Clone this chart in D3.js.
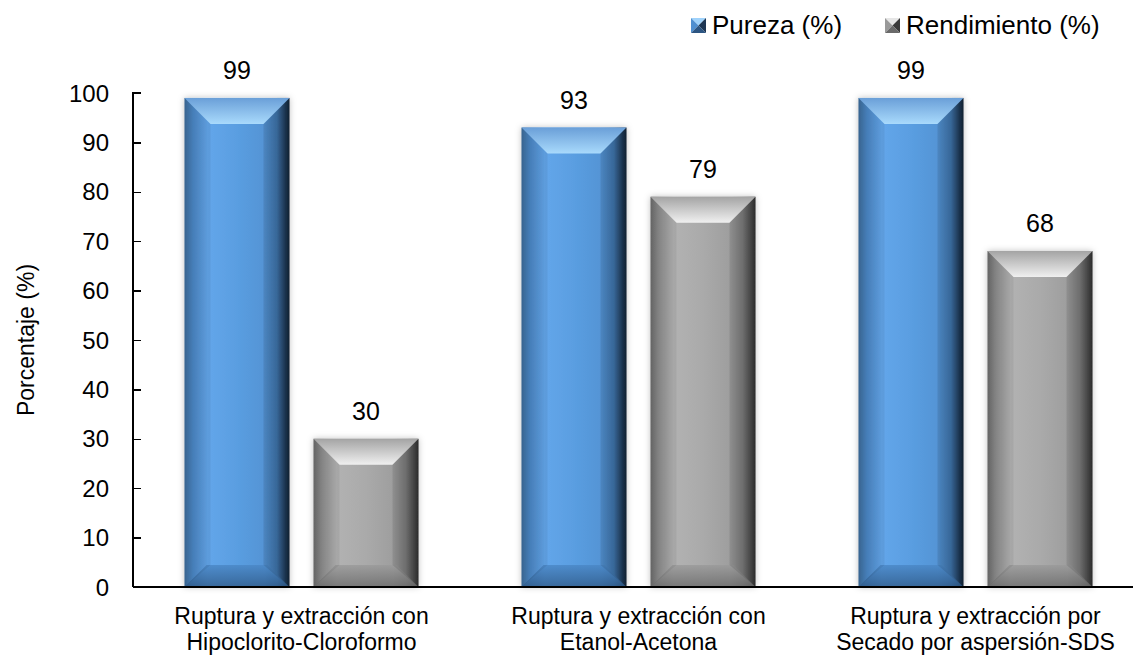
<!DOCTYPE html>
<meta charset="utf-8">
<script type="text/javascript" src="https://d3js.org/d3.v7.min.js"></script>
<style>
body { margin: 0; background: #fff; }
text {
  fill: #000;
  font-family: Arial, "Liberation Sans", sans-serif;
}
.axis path, .axis line { stroke: #000; stroke-width: 1.5px; shape-rendering: crispEdges; }
</style>
<body>
<script>

// data
var categories = [
  ["Ruptura y extracción con", "Hipoclorito-Cloroformo"],
  ["Ruptura y extracción con", "Etanol-Acetona"],
  ["Ruptura y extracción por", "Secado por aspersión-SDS"]
];
var series = ["Pureza (%)", "Rendimiento (%)"];
var pureza = [99, 93, 99];
var rendimiento = [30, 79, 68];
var yTicks = [0, 10, 20, 30, 40, 50, 60, 70, 80, 90, 100];

var width = 1133,
    height = 655;

var svg = d3.select("body").append("svg")
    .attr("width", width)
    .attr("height", height);

var defs = svg.append("defs");

// face gradients (left to right) and bevel gradients (top to bottom)
function faceGrad(id, stops) {
  var g = defs.append("linearGradient").attr("id", id)
      .attr("x1", "0%").attr("x2", "100%").attr("y1", "0%").attr("y2", "0%");
  stops.forEach(function(s) {
    g.append("stop").attr("offset", s[0]).attr("stop-color", s[1]);
  });
}
function vGrad(id, stops) {
  var g = defs.append("linearGradient").attr("id", id)
      .attr("x1", "0%").attr("x2", "0%").attr("y1", "0%").attr("y2", "100%");
  stops.forEach(function(s) {
    g.append("stop").attr("offset", s[0]).attr("stop-color", s[1]);
  });
}

faceGrad("faceBlue", [["0%", "#3c6a98"], ["8%", "#4b86c4"], ["22%", "#63a6ea"], ["50%", "#5a9ee1"], ["76%", "#5494d5"], ["88%", "#3e73aa"], ["96%", "#1f3a58"], ["100%", "#142436"]]);
faceGrad("faceGray", [["0%", "#6a6a6a"], ["8%", "#8d8d8d"], ["22%", "#b2b2b2"], ["50%", "#aaaaaa"], ["76%", "#9e9e9e"], ["88%", "#7a7a7a"], ["96%", "#4a4a4a"], ["100%", "#303030"]]);
vGrad("topBlue", [["0%", "#6a9fd8"], ["100%", "#a9dafc"]]);
vGrad("topGray", [["0%", "#a4a4a4"], ["100%", "#f0f0f0"]]);
vGrad("botBlue", [["0%", "#4a87c6"], ["100%", "#2f5a88"]]);
vGrad("botGray", [["0%", "#9a9a9a"], ["100%", "#6a6a6a"]]);

var shadow = defs.append("filter").attr("id", "shadow")
    .attr("x", "-20%").attr("y", "-10%").attr("width", "140%").attr("height", "120%");
shadow.append("feDropShadow").attr("dx", 0).attr("dy", 0).attr("stdDeviation", 3)
    .attr("flood-color", "#000").attr("flood-opacity", 0.25);

var styles = [
  {face: "url(#faceBlue)", top: "url(#topBlue)", bot: "url(#botBlue)", m: ["#9fd2fb", "#4f8fd0", "#1d3654", "#2c5582"]},
  {face: "url(#faceGray)", top: "url(#topGray)", bot: "url(#botGray)", m: ["#e6e6e6", "#999999", "#3a3a3a", "#6a6a6a"]}
];

// scales
var x0 = d3.scaleBand()
    .domain(d3.range(categories.length))
    .range([133, 1144]);

var x1 = d3.scaleBand()
    .domain(series)
    .range([0, x0.bandwidth()])
    .paddingInner(0.186)
    .paddingOuter(0.399);

var y = d3.scaleLinear()
    .domain([0, 100])
    .range([587, 93]);

// y axis, ticks pointing inside
var yAxis = svg.append("g")
    .attr("class", "axis")
    .attr("transform", "translate(133,0)")
    .call(d3.axisRight(y).tickValues(yTicks).tickSize(8).tickSizeOuter(8).tickFormat(""));
yAxis.select(".domain").attr("d", "M8," + y(100) + "H0V" + y(0));

svg.append("g").selectAll("text")
    .data(yTicks)
    .enter().append("text")
    .attr("x", 109)
    .attr("y", function(d) { return y(d); })
    .attr("dy", "0.36em")
    .attr("text-anchor", "end")
    .style("font-size", "24px")
    .text(function(d) { return d; });

svg.append("text")
    .attr("transform", "translate(34," + ((y(0) + y(100)) / 2) + ") rotate(-90)")
    .attr("text-anchor", "middle")
    .style("font-size", "23px")
    .text("Porcentaje (%)");

// bars
var values = [pureza, rendimiento];
var bars = [];
values.forEach(function(vals, s) {
  vals.forEach(function(v, i) { bars.push({cat: i, s: s, v: v}); });
});

var bar = svg.append("g").selectAll("g")
    .data(bars)
    .enter().append("g")
    .attr("transform", function(d) {
      return "translate(" + (x0(d.cat) + x1(series[d.s])) + ",0)";
    });

bar.each(function(d) {
  var g = d3.select(this),
      w = x1.bandwidth(),
      t = y(d.v),
      b = y(0),
      bv = Math.min(26, (b - t) / 2),
      bb = Math.min(22, (b - t) / 2),
      st = styles[d.s];

  g.append("rect")
      .attr("x", 0).attr("y", t)
      .attr("width", w).attr("height", b - t)
      .attr("fill", st.face)
      .attr("filter", "url(#shadow)");

  // top bevel
  g.append("path")
      .attr("d", "M0," + t + "H" + w + "L" + (w - bv) + "," + (t + bv) + "H" + bv + "Z")
      .attr("fill", st.top);
  // bottom bevel
  g.append("path")
      .attr("d", "M0," + b + "H" + w + "L" + (w - bb) + "," + (b - bb) + "H" + bb + "Z")
      .attr("fill", st.bot)
      .attr("opacity", 0.8);
  // side bevels
  g.append("path")
      .attr("d", "M0," + t + "L" + bv + "," + (t + bv) + "V" + (b - bb) + "L0," + b + "Z")
      .attr("fill", "#000").attr("opacity", 0.06);
  g.append("path")
      .attr("d", "M" + w + "," + t + "L" + (w - bv) + "," + (t + bv) + "V" + (b - bb) + "L" + w + "," + b + "Z")
      .attr("fill", "#000").attr("opacity", 0.1);
});

// value labels
bar.append("text")
    .attr("x", x1.bandwidth() / 2)
    .attr("y", function(d) { return y(d.v) - 19; })
    .attr("text-anchor", "middle")
    .style("font-size", "25px")
    .text(function(d) { return d.v; });

// x axis line
svg.append("line")
    .attr("x1", 133).attr("x2", width)
    .attr("y1", y(0)).attr("y2", y(0))
    .attr("stroke", "#000").attr("stroke-width", 1.5)
    .style("shape-rendering", "crispEdges");

// category labels, two lines each
var cat = svg.append("g").selectAll("text")
    .data(categories)
    .enter().append("text")
    .attr("text-anchor", "middle")
    .style("font-size", "23px")
    .attr("transform", function(d, i) {
      return "translate(" + (x0(i) + x0.bandwidth() / 2) + ",624)";
    });
cat.append("tspan").attr("x", 0).attr("y", 0).text(function(d) { return d[0]; });
cat.append("tspan").attr("x", 0).attr("y", 26).text(function(d) { return d[1]; });

// legend
var legendX = [691, 885];
var legend = svg.append("g").selectAll("g")
    .data(series)
    .enter().append("g")
    .attr("transform", function(d, i) { return "translate(" + legendX[i] + ",18)"; });

legend.each(function(d, i) {
  var g = d3.select(this), s = 15, m = styles[i].m;
  var tris = [
    "M0,0H" + s + "L" + s / 2 + "," + s / 2 + "Z",
    "M0,0L" + s / 2 + "," + s / 2 + "L0," + s + "Z",
    "M" + s + ",0L" + s / 2 + "," + s / 2 + "L" + s + "," + s + "Z",
    "M0," + s + "H" + s + "L" + s / 2 + "," + s / 2 + "Z"
  ];
  tris.forEach(function(p, k) {
    g.append("path").attr("d", p).attr("fill", m[k]);
  });
  g.append("text")
      .attr("x", s + 6)
      .attr("y", 16)
      .style("font-size", "26px")
      .text(d);
});

</script>
</body>
</html>
